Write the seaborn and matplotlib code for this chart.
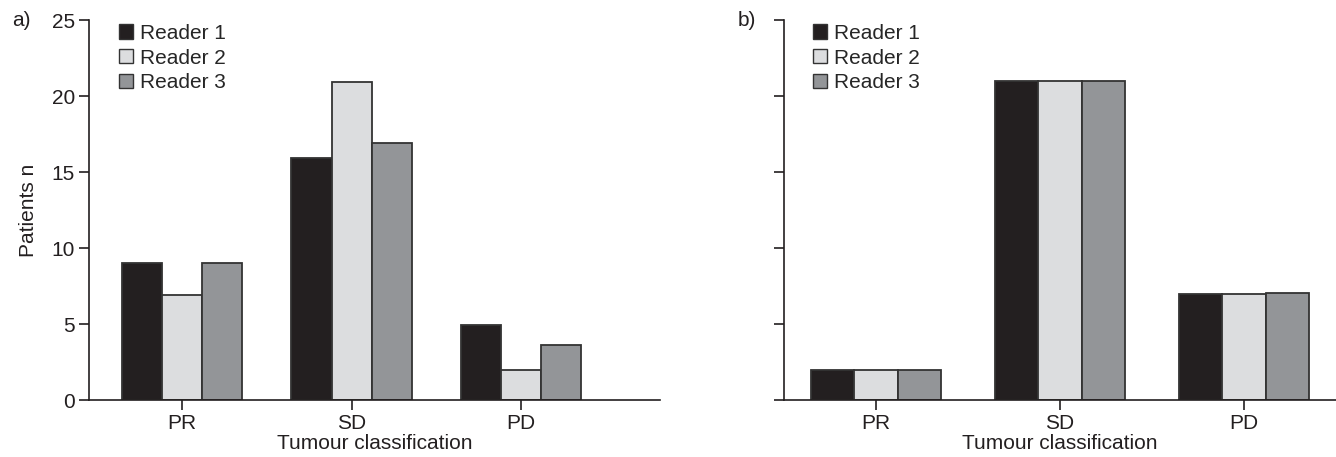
import numpy as np
import pandas as pd
import matplotlib
matplotlib.use("Agg")
import matplotlib.pyplot as plt
import seaborn as sns
from matplotlib.patches import Patch

categories = ["PR", "SD", "PD"]
readers = ["Reader 1", "Reader 2", "Reader 3"]
a_reader1 = [9.0, 15.9, 4.95]
a_reader2 = [6.9, 20.9, 1.95]
a_reader3 = [9.0, 16.9, 3.65]
b_reader1 = [2.0, 21.0, 7.0]
b_reader2 = [2.0, 21.0, 7.0]
b_reader3 = [2.0, 21.0, 7.05]
y_ticks = [0, 5, 10, 15, 20, 25]
colors = ["#231f20", "#dcdddf", "#939598"]

sns.set_theme(style="ticks")
plt.rcParams["font.family"] = ["Liberation Sans", "DejaVu Sans"]
FS = 15

def long_df(r1, r2, r3):
    rows = []
    for rd, vals in zip(readers, [r1, r2, r3]):
        for c, v in zip(categories, vals):
            rows.append({"cat": c, "reader": rd, "n": v})
    return pd.DataFrame(rows)

fig = plt.figure(figsize=(13.36, 4.57), dpi=100)
axA = fig.add_axes([0.0666, 0.1247, 0.4274, 0.8315])
axB = fig.add_axes([0.5868, 0.1247, 0.4132, 0.8315])

for ax, df, xlim, lx in [(axA, long_df(a_reader1, a_reader2, a_reader3), (-0.55, 2.82), 0.038),
                         (axB, long_df(b_reader1, b_reader2, b_reader3), (-0.5, 2.5), 0.0375)]:
    sns.barplot(data=df, x="cat", y="n", hue="reader", order=categories,
                hue_order=readers, palette=colors, width=0.71, ax=ax,
                edgecolor="#333333", linewidth=1.3, legend=False, errorbar=None,
                saturation=1)
    ax.set_xlim(*xlim)
    ax.set_ylim(0, 25)
    ax.set_yticks(y_ticks)
    for s in ["top", "right"]:
        ax.spines[s].set_visible(False)
    for s in ["left", "bottom"]:
        ax.spines[s].set_linewidth(1.2)
        ax.spines[s].set_color("#231f20")
    ax.tick_params(axis="both", direction="out", length=7, width=1.2,
                   colors="#231f20", labelsize=FS, pad=3)
    ax.set_xlabel("Tumour classification", fontsize=FS, color="#231f20", labelpad=1)
    handles = [Patch(facecolor=c, edgecolor="#333333", linewidth=1.0) for c in colors]
    ax.legend(handles, readers, loc="upper left", bbox_to_anchor=(lx, 1.012),
              frameon=False, fontsize=FS, handlelength=0.67, handleheight=0.67,
              handletextpad=0.35, labelspacing=0.28, borderaxespad=0)

axA.set_ylabel("Patients n", fontsize=FS, color="#231f20", labelpad=10)
axB.set_ylabel("")
axB.set_yticklabels([])

fig.text(0.009, 0.955, "a)", fontsize=FS, color="#231f20", va="center")
fig.text(0.552, 0.955, "b)", fontsize=FS, color="#231f20", va="center")

fig.savefig("out.png", dpi=100)
